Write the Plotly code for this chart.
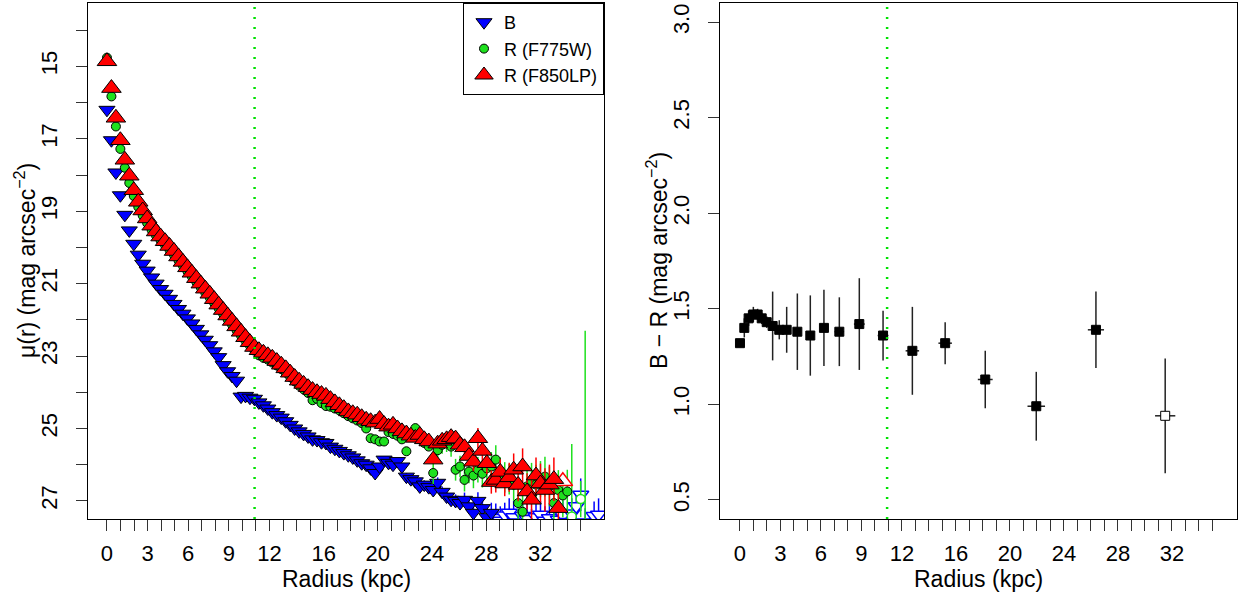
import plotly.graph_objects as go

# ---------------- data ----------------
RADIUS = [0.00, 0.33, 0.66, 0.99, 1.32, 1.65, 1.98, 2.31, 2.64, 2.97,
          3.30, 3.63, 3.96, 4.29, 4.62, 4.95, 5.28, 5.61, 5.94, 6.27,
          6.60, 6.93, 7.26, 7.59, 7.92, 8.25, 8.58, 8.91, 9.24, 9.57,
          9.90, 10.23, 10.56, 10.89, 11.22, 11.55, 11.88, 12.21, 12.54, 12.87,
          13.20, 13.53, 13.86, 14.19, 14.52, 14.85, 15.18, 15.51, 15.84, 16.17,
          16.50, 16.83, 17.16, 17.49, 17.82, 18.15, 18.48, 18.81, 19.14, 19.47,
          19.80, 20.13, 20.46, 20.79, 21.12, 21.45, 21.78, 22.11, 22.44, 22.77,
          23.10, 23.43, 23.76, 24.09, 24.42, 24.75, 25.08, 25.41, 25.74, 26.07,
          26.40, 26.73, 27.06, 27.39, 27.72, 28.05, 28.38, 28.71, 29.04, 29.37,
          29.70, 30.03, 30.36, 30.69, 31.02, 31.35, 31.68, 32.01, 32.34, 32.67,
          33.00, 33.33, 33.66, 33.99, 34.32, 34.65, 34.98, 35.31, 35.64, 35.97,
          36.30]

MU_B = [16.20, 17.04, 17.93, 18.56, 19.10, 19.53, 19.90, 20.20, 20.45, 20.64,
        20.83, 21.00, 21.15, 21.28, 21.42, 21.56, 21.70, 21.83, 21.96, 22.10,
        22.25, 22.40, 22.55, 22.70, 22.87, 23.03, 23.25, 23.42, 23.55, 23.68,
        24.12, 24.10, 24.15, 24.18, 24.28, 24.36, 24.45, 24.55, 24.63, 24.70,
        24.80, 24.90, 25.00, 25.08, 25.15, 25.22, 25.30, 25.32, 25.38, 25.40,
        25.50, 25.56, 25.62, 25.68, 25.74, 25.80, 25.88, 25.96, 26.00, 26.10,
        26.23, 26.05, 25.86, 25.95, 26.00, 25.90, 26.05, 26.33, 26.40, 26.46,
        26.60, 26.55, 26.62, 26.70, 26.50, 26.75, 26.88, 26.97, 27.00, 27.06,
        26.97, 27.15, 27.33, 27.00, 27.20, 27.45, 27.33, 27.47, 27.55, 27.40,
        27.33, 27.45, 27.60, 27.42, 27.50, 27.62, 27.45, 27.38, 27.55, 27.48,
        27.65, 27.52, 27.40, 27.58, 27.35, 27.15, 26.83, 27.60, 27.70, 27.42,
        27.38]
ERR_B = [0] * 67 + [0.10, 0.10, 0.12, 0.12, 0.12, 0.14, 0.14, 0.15, 0.15, 0.16,
                    0.16, 0.18, 0.18, 0.20, 0.20, 0.22, 0.24, 0.25, 0.26, 0.28,
                    0.40, 0.40, 0.35, 0.40, 0.45, 0.38, 0.40, 0.42, 0.40, 0.45,
                    0.38, 0.40, 0.42, 0.40, 0.45, 0.40, 0.38, 0.42, 0.40, 0.45,
                    0.40, 0.35, 0.40, 0.45]
B_OPEN_FROM = 87

MU_G = [14.76, 15.83, 16.66, 17.28, 17.80, 18.22, 18.58, 18.88, 19.12, 19.33,
        19.52, 19.68, 19.81, 19.94, 20.07, 20.21, 20.36, 20.51, 20.66, 20.81,
        20.96, 21.11, 21.25, 21.39, 21.54, 21.69, 21.84, 21.99, 22.14, 22.29,
        22.44, 22.58, 22.72, 22.85, 22.98, 23.05, 23.10, 23.18, 23.26, 23.36,
        23.46, 23.58, 23.70, 23.82, 23.92, 24.02, 24.22, 24.18, 24.30, 24.38,
        24.40, 24.45, 24.50, 24.58, 24.66, 24.72, 24.78, 24.85, 25.00, 25.27,
        25.30, 25.36, 25.36, 25.10, 25.15, 25.20, 25.30, 25.63, 25.20, 24.99,
        25.30, 25.40, 25.50, 26.23, 25.60, 25.45, 25.40, 25.50, 26.14, 26.05,
        26.42, 26.19, 26.30, 26.14, 26.25, 26.10, 26.05, 25.86, 26.20, 26.35,
        26.40, 26.55, 27.06, 27.30, 26.60, 26.45, 26.55, 26.40, 26.33, 26.60,
        27.06, 26.70, 26.85, 26.74, 27.43, None, 26.95, 29.00, None, None,
        None]
ERR_G = [0] * 73 + [0.30, 0.25, 0.25, 0.25, 0.28, 0.30, 0.30, 0.32, 0.32, 0.35,
                    0.35, 0.38, 0.38, 0.40, 0.40, 0.40, 0.42, 0.42, 0.45, 0.50,
                    0.50, 0.50, 0.50, 0.55, 0.50, 0.55, 0.55, 0.60, 0.55, 0.60,
                    0.60, 2.00, 0, 0.50, 6.70, 0, 0, 0]
G_OPEN_IDX = [104, 106, 107]

MU_R = [14.86, 15.60, 16.42, 17.04, 17.58, 18.02, 18.42, 18.74, 18.98, 19.20,
        19.40, 19.56, 19.70, 19.83, 19.96, 20.10, 20.25, 20.40, 20.55, 20.70,
        20.85, 21.00, 21.14, 21.28, 21.43, 21.58, 21.73, 21.88, 22.03, 22.18,
        22.33, 22.48, 22.62, 22.75, 22.84, 22.91, 22.98, 23.05, 23.14, 23.24,
        23.34, 23.46, 23.58, 23.68, 23.77, 23.86, 23.94, 24.00, 24.05, 24.10,
        24.19, 24.28, 24.36, 24.44, 24.53, 24.58, 24.62, 24.69, 24.76, 24.80,
        24.84, 24.74, 24.88, 24.95, 24.90, 25.00, 25.08, 25.14, 25.20, 25.26,
        25.18, 25.30, 25.36, 25.86, 25.42, 25.34, 25.30, 25.24, 25.28, 25.45,
        25.52, 25.76, 25.92, 25.27, 25.62, 25.96, 26.48, 26.42, 26.20, 26.52,
        26.35, 26.14, 26.56, 26.05, 26.74, 26.97, 26.30, 26.52, 26.70, 26.55,
        26.40, 27.20, 26.46, None, None, None, None, None, 28.50, None,
        None]
ERR_R = [0] * 79 + [0.20, 0.22, 0.25, 0.25, 0.28, 0.30, 0.30, 0.32, 0.35, 0.35,
                    0.35, 0.40, 0.45, 0.45, 0.50, 0.50, 0.55, 0.50, 0.55, 0.60,
                    0.55, 0.60, 0.40, 0, 0, 0, 0, 0, 3.70, 0, 0, 0]
R_OPEN_IDX = [102, 108]

R_BREAK = 10.9  # dotted vertical line (kpc)

# B - R colour profile
BR_RAD = [0.00, 0.32, 0.64, 0.99, 1.31, 1.61, 1.98, 2.42, 2.91, 3.46, 4.25,
          5.21, 6.22, 7.36, 8.84, 10.60, 12.77, 15.20, 18.17, 21.95, 26.37, 31.50]
BR_VAL = [1.32, 1.40, 1.45, 1.47, 1.47, 1.45, 1.43, 1.41, 1.39, 1.39, 1.38,
          1.36, 1.40, 1.38, 1.42, 1.36, 1.28, 1.32, 1.13, 0.99, 1.39, 0.94]
BR_ERR = [0.02, 0.05, 0.04, 0.04, 0.03, 0.03, 0.03, 0.18, 0.05, 0.12, 0.20,
          0.21, 0.20, 0.18, 0.24, 0.13, 0.23, 0.11, 0.15, 0.18, 0.20, 0.30]
BR_XERR = [0.05, 0.10, 0.10, 0.10, 0.10, 0.10, 0.12, 0.15, 0.15, 0.20, 0.25,
           0.28, 0.30, 0.35, 0.40, 0.40, 0.50, 0.50, 0.55, 0.65, 0.60, 0.75]
BR_OPEN_IDX = [21]

X_TICKS = list(range(0, 36))
X_LABELS = {0: "0", 3: "3", 6: "6", 9: "9", 12: "12", 16: "16", 20: "20",
            24: "24", 28: "28", 32: "32"}
MU_TICKS = list(range(14, 28))
BR_TICKS = [0.5, 1.0, 1.5, 2.0, 2.5, 3.0]

# ---------------- figure ----------------
FONT = "Liberation Sans, Arial, Helvetica, sans-serif"
W, H = 1238, 599
BLUE, GREEN, RED = "#0000ff", "#1ee01e", "#ff0000"

fig = go.Figure()


def split(mu, err, open_idx):
    fx, fy, fe, ox, oy, oe = [], [], [], [], [], []
    for i, (r, m, e) in enumerate(zip(RADIUS, mu, err)):
        if m is None:
            continue
        if i in open_idx:
            ox.append(r); oy.append(m); oe.append(e)
        else:
            fx.append(r); fy.append(m); fe.append(e)
    return fx, fy, fe, ox, oy, oe


series = [
    ("B", MU_B, ERR_B, list(range(B_OPEN_FROM, len(RADIUS))), BLUE, "triangle-down", 14),
    ("R (F775W)", MU_G, ERR_G, G_OPEN_IDX, GREEN, "circle", 9),
    ("R (F850LP)", MU_R, ERR_R, R_OPEN_IDX, RED, "triangle-up", 17),
]

for name, mu, err, oidx, col, sym, size in series:
    fx, fy, fe, ox, oy, oe = split(mu, err, oidx)
    fig.add_trace(go.Scatter(
        x=ox, y=oy, mode="markers", showlegend=False, xaxis="x", yaxis="y",
        marker=dict(symbol=sym, size=size, color="white", line=dict(color=col, width=1.5)),
        error_y=dict(type="data", array=oe, visible=True, color=col, thickness=1.5, width=0),
    ))
    fig.add_trace(go.Scatter(
        x=fx, y=fy, mode="markers", name=name, xaxis="x", yaxis="y",
        marker=dict(symbol=sym, size=size, color=col, line=dict(color="black", width=1)),
        error_y=dict(type="data", array=fe, visible=True, color=col, thickness=1.5, width=0),
    ))

# B-R panel
bf = [i for i in range(len(BR_RAD)) if i not in BR_OPEN_IDX]
for idxs, fill in ((bf, "black"), (BR_OPEN_IDX, "white")):
    fig.add_trace(go.Scatter(
        x=[BR_RAD[i] for i in idxs], y=[BR_VAL[i] for i in idxs],
        mode="markers", showlegend=False, xaxis="x2", yaxis="y2",
        marker=dict(symbol="square", size=9, color=fill, line=dict(color="black", width=1)),
        error_y=dict(type="data", array=[BR_ERR[i] for i in idxs], color="#222222", thickness=1.5, width=0),
        error_x=dict(type="data", array=[BR_XERR[i] for i in idxs], color="#222222", thickness=1.5, width=0),
    ))

dotted = dict(color="rgb(0,225,0)", width=2.5, dash="2px,8px")
for xr, yr in (("x", "y domain"), ("x2", "y2 domain")):
    fig.add_shape(type="line", xref=xr, yref=yr, x0=R_BREAK, x1=R_BREAK, y0=0, y1=1,
                  line=dotted, layer="above")

tick_text = [X_LABELS.get(t, "") for t in X_TICKS]
axis_common = dict(showline=True, linecolor="black", linewidth=1, mirror=True,
                   ticks="outside", ticklen=11, tickcolor="#333333", tickwidth=1,
                   showgrid=False, zeroline=False,
                   tickfont=dict(family=FONT, size=22, color="black"))

ydom = [80 / H, 596 / H]
fig.update_layout(
    width=W, height=H, autosize=False,
    margin=dict(l=0, r=0, t=0, b=0),
    paper_bgcolor="white", plot_bgcolor="white",
    font=dict(family=FONT, color="black"),
    xaxis=dict(domain=[88 / W, 604 / W], range=[-1.4, 36.7], tickmode="array",
               tickvals=X_TICKS, ticktext=tick_text, anchor="y",
               ticklabelstandoff=4, **axis_common),
    yaxis=dict(domain=ydom, range=[27.5, 13.25], tickmode="array",
               tickvals=MU_TICKS, ticktext=[str(t) if t % 2 else "" for t in MU_TICKS],
               tickangle=-90, anchor="x", ticklabelstandoff=10, **axis_common),
    xaxis2=dict(domain=[720 / W, 1237 / W], range=[-1.48, 36.82], tickmode="array",
                tickvals=X_TICKS, ticktext=tick_text, anchor="y2",
                ticklabelstandoff=4, **axis_common),
    yaxis2=dict(domain=ydom, range=[0.4, 3.1], tickmode="array",
                tickvals=BR_TICKS, ticktext=["%.1f" % t for t in BR_TICKS],
                tickangle=-90, anchor="x2", ticklabelstandoff=10, **axis_common),
    legend=dict(x=604 / W, xanchor="right", y=596 / H, yanchor="top",
                bgcolor="white", bordercolor="black", borderwidth=1,
                font=dict(family=FONT, size=18, color="black"),
                tracegroupgap=0),
    showlegend=True,
)

ann = dict(xref="paper", yref="paper", showarrow=False, xanchor="center", yanchor="middle",
           font=dict(family=FONT, size=23, color="black"))
fig.add_annotation(text="Radius (kpc)", x=346 / W, y=(H - 579) / H, **ann)
fig.add_annotation(text="Radius (kpc)", x=978 / W, y=(H - 579) / H, **ann)
fig.add_annotation(text="μ(r) (mag arcsec<sup>−2</sup>)", x=25 / W, y=(H - 261) / H,
                   textangle=-90, **ann)
fig.add_annotation(text="B − R (mag arcsec<sup>−2</sup>)", x=657 / W, y=(H - 261) / H,
                   textangle=-90, **ann)

fig.write_html("out.html", config={"displayModeBar": False},
               post_script="document.body.style.margin='0';")
